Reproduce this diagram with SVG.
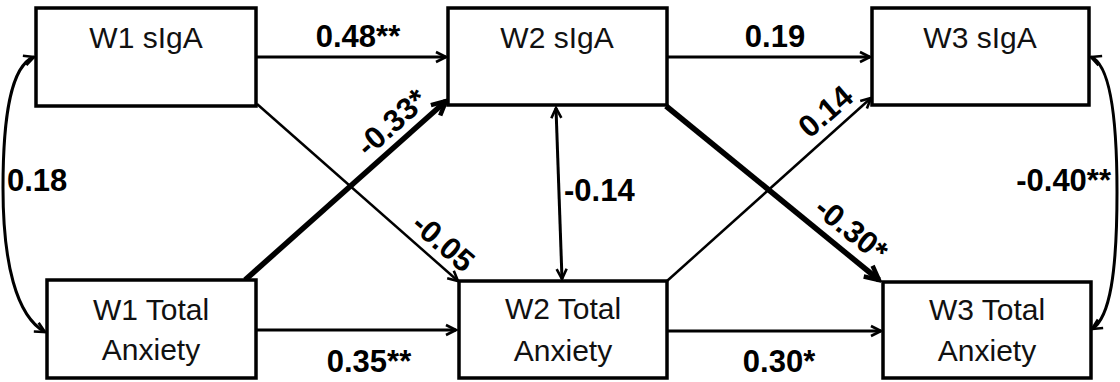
<svg xmlns="http://www.w3.org/2000/svg" width="1120" height="382" viewBox="0 0 1120 382">
  <style>
    .box { fill: #ffffff; stroke: #000000; stroke-width: 3.5; }
    .name { font-family: "Liberation Sans", Arial, sans-serif; font-size: 30px; fill: #111111; text-anchor: middle; }
    .coef { font-family: "Liberation Sans", Arial, sans-serif; font-size: 31px; font-weight: bold; fill: #000000; }
    .mid { text-anchor: middle; }
    .path { fill: none; stroke: #000000; stroke-width: 3; }
    .thin { fill: none; stroke: #000000; stroke-width: 2.5; }
    .heavy { fill: none; stroke: #000000; stroke-width: 5.5; }
  </style>
  <defs>
    <marker id="arrow" markerUnits="userSpaceOnUse" viewBox="0 0 14 14" refX="12" refY="7" markerWidth="14" markerHeight="14" orient="auto-start-reverse">
      <path d="M2,2 L12,7 L2,12" fill="none" stroke="#000" stroke-width="2.6" stroke-linejoin="miter"/>
    </marker>
    <marker id="arrowHeavy" markerUnits="userSpaceOnUse" viewBox="0 0 20 20" refX="17" refY="10" markerWidth="20" markerHeight="20" orient="auto">
      <path d="M3,3 L17,10 L3,17" fill="none" stroke="#000" stroke-width="4.5" stroke-linejoin="miter"/>
    </marker>
  </defs>

  <!-- connectors -->
  <g id="connectors">
    <!-- autoregressive paths -->
    <line class="path" x1="256" y1="57" x2="446" y2="57" marker-end="url(#arrow)"/>
    <line class="path" x1="667" y1="57" x2="870" y2="57" marker-end="url(#arrow)"/>
    <line class="path" x1="256" y1="330" x2="456" y2="330" marker-end="url(#arrow)"/>
    <line class="path" x1="668" y1="331" x2="881" y2="331" marker-end="url(#arrow)"/>
    <!-- cross-lagged paths -->
    <line class="thin" x1="257" y1="104" x2="458" y2="281" marker-end="url(#arrow)"/>
    <line class="heavy" x1="245" y1="280" x2="446" y2="101" marker-end="url(#arrowHeavy)"/>
    <line class="heavy" x1="666" y1="106" x2="879" y2="280" marker-end="url(#arrowHeavy)"/>
    <line class="thin" x1="667" y1="281" x2="871" y2="98" marker-end="url(#arrow)"/>
    <!-- within-wave covariances -->
    <line class="path" x1="556" y1="108" x2="562" y2="279" marker-start="url(#arrow)" marker-end="url(#arrow)"/>
    <path class="path" d="M34,57 C10,66 3,120 3,188 C3,262 16,316 45,332" marker-start="url(#arrow)" marker-end="url(#arrow)"/>
    <path class="path" d="M1091,57 C1109,64 1117,112 1117,192 C1117,272 1110,318 1092,329" marker-start="url(#arrow)" marker-end="url(#arrow)"/>

    <!-- coefficients -->
    <text class="coef mid" x="358" y="47">0.48**</text>
    <text class="coef mid" x="775" y="47">0.19</text>
    <text class="coef mid" x="369" y="372">0.35**</text>
    <text class="coef mid" x="779" y="372">0.30*</text>
    <text class="coef" x="7" y="191">0.18</text>
    <text class="coef" x="1111" y="191" text-anchor="end">-0.40**</text>
    <text class="coef" x="564" y="201">-0.14</text>
    <text class="coef mid" transform="translate(392,123) rotate(-42)" y="10">-0.33*</text>
    <text class="coef mid" transform="translate(443,243) rotate(41)" y="10">-0.05</text>
    <text class="coef mid" transform="translate(826,112) rotate(-41)" y="10">0.14</text>
    <text class="coef mid" transform="translate(851,230) rotate(39)" y="10">-0.30*</text>
  </g>

  <!-- wave 1 -->
  <g id="w1-siga">
    <rect class="box" x="36" y="8" width="220" height="98"/>
    <text class="name" x="146" y="48">W1 sIgA</text>
  </g>
  <g id="w1-anxiety">
    <rect class="box" x="47" y="280" width="209" height="98"/>
    <text class="name" x="151" y="320">W1 Total</text>
    <text class="name" x="151" y="360">Anxiety</text>
  </g>

  <!-- wave 2 -->
  <g id="w2-siga">
    <rect class="box" x="448" y="8" width="219" height="97"/>
    <text class="name" x="557" y="48">W2 sIgA</text>
  </g>
  <g id="w2-anxiety">
    <rect class="box" x="459" y="281" width="208" height="97"/>
    <text class="name" x="563" y="319">W2 Total</text>
    <text class="name" x="563" y="361">Anxiety</text>
  </g>

  <!-- wave 3 -->
  <g id="w3-siga">
    <rect class="box" x="872" y="8" width="217" height="97"/>
    <text class="name" x="980" y="48">W3 sIgA</text>
  </g>
  <g id="w3-anxiety">
    <rect class="box" x="883" y="282" width="208" height="96"/>
    <text class="name" x="987" y="320">W3 Total</text>
    <text class="name" x="987" y="361">Anxiety</text>
  </g>
</svg>
